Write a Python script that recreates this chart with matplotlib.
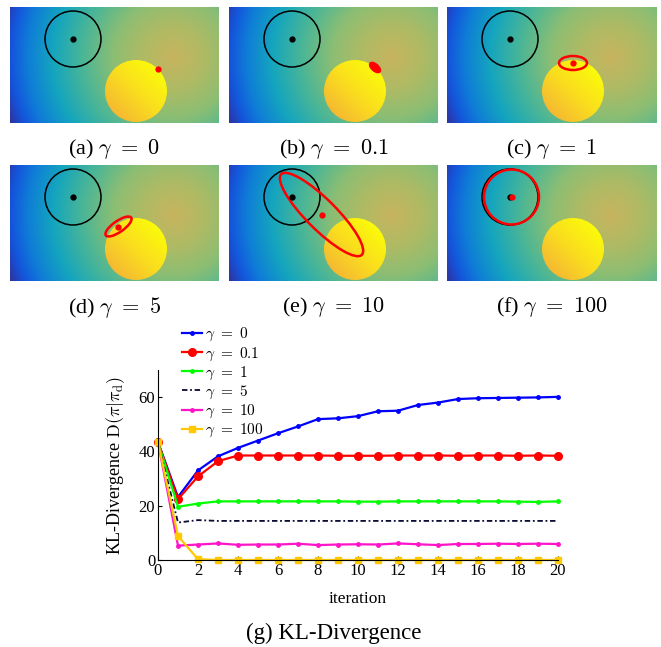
import numpy as np
import matplotlib
matplotlib.use('Agg')
import matplotlib.pyplot as plt
from matplotlib.colors import LinearSegmentedColormap
from matplotlib.patches import Circle, Ellipse

plt.rcParams['font.family'] = 'serif'
plt.rcParams['font.serif'] = ['Liberation Serif', 'DejaVu Serif']
plt.rcParams['mathtext.fontset'] = 'cm'

# KL-divergence per iteration for each gamma
iters = np.arange(0, 21)
kl_g0 = [43.4, 23.2, 33.0, 38.2, 41.3, 44.0, 46.7, 49.2, 51.9, 52.2, 53.0,
         54.8, 55.0, 57.1, 58.0, 59.3, 59.6, 59.7, 59.8, 59.9, 60.1]
kl_g01 = [43.4, 22.4, 30.8, 36.4, 38.5, 38.5, 38.5, 38.5, 38.5, 38.4, 38.4,
          38.4, 38.5, 38.5, 38.5, 38.4, 38.5, 38.5, 38.4, 38.5, 38.4]
kl_g1 = [43.4, 19.6, 20.8, 21.6, 21.6, 21.6, 21.6, 21.6, 21.6, 21.6, 21.5,
         21.5, 21.6, 21.6, 21.6, 21.6, 21.6, 21.6, 21.5, 21.4, 21.6]
kl_g5 = [43.4, 13.8, 14.7, 14.4, 14.4, 14.4, 14.4, 14.4, 14.4, 14.4, 14.4,
         14.4, 14.4, 14.4, 14.4, 14.4, 14.4, 14.4, 14.4, 14.4, 14.4]
kl_g10 = [43.4, 5.3, 5.7, 6.1, 5.6, 5.7, 5.7, 6.0, 5.5, 5.7, 5.8,
          5.7, 6.1, 5.8, 5.5, 5.9, 5.9, 6.0, 5.9, 6.0, 5.9]
kl_g100 = [43.4, 8.8, 0.3, 0.0, 0.0, 0.0, 0.0, 0.0, 0.0, 0.0, 0.0,
           0.0, 0.0, 0.0, 0.0, 0.0, 0.0, 0.0, 0.0, 0.0, 0.0]
gamma_labels = ['0', '0.1', '1', '5', '10', '100']
panel_letters = ['a', 'b', 'c', 'd', 'e', 'f']

# covariance ellipses per gamma: (cx, cy, width, height, angle), pixel units
ellipses = [None,
            (146, 60.5, 12, 6, 42),
            (126, 56, 28, 14, 0),
            (108.5, 61.5, 31, 11, -35),
            (92.5, 49.5, 114, 30, 45),
            (64.5, 32, 55, 55, 0)]
means = [(148, 62), (146, 60.5), (126, 56), (108, 62), (93, 49.5), (65, 32)]

W, H = 209.0, 116.0
fig = plt.figure(figsize=(6.61, 6.47), dpi=100)
FW, FH = 661.0, 647.0

# cost field behind the panels
bg_cmap = LinearSegmentedColormap.from_list('field', [
    (0.00, (200/255, 180/255, 95/255)),
    (0.17, (175/255, 186/255, 100/255)),
    (0.33, (140/255, 190/255, 115/255)),
    (0.50, (75/255, 182/255, 150/255)),
    (0.67, (20/255, 165/255, 190/255)),
    (0.81, (15/255, 125/255, 215/255)),
    (0.90, (20/255, 85/255, 220/255)),
    (1.00, (55/255, 40/255, 140/255))])
yy, xx = np.mgrid[0:H:0.5, 0:W:0.5]
field = np.sqrt((xx - 163) ** 2 + (yy - 50) ** 2) / 180.0

disk_cmap = LinearSegmentedColormap.from_list('disk', [
    (245/255, 185/255, 50/255), (250/255, 222/255, 30/255), (250/255, 250/255, 10/255)])
dcx, dcy, dr = 126, 84, 31
dy, dx = np.mgrid[dcy - dr:dcy + dr:0.5, dcx - dr:dcx + dr:0.5]
disk_val = ((dx - dcx) - (dy - dcy)) / (2 * dr)

lefts = [10, 229, 447]
tops = [7, 165]
cap_y = [149, 307]
for k in range(6):
    r, c = divmod(k, 3)
    ax = fig.add_axes([lefts[c] / FW, 1 - (tops[r] + H) / FH, W / FW, H / FH])
    ax.imshow(field, cmap=bg_cmap, vmin=0, vmax=1, extent=(0, W, H, 0),
              interpolation='bilinear', aspect='auto')
    im = ax.imshow(disk_val, cmap=disk_cmap, vmin=-0.7, vmax=0.7,
                   extent=(dcx - dr, dcx + dr, dcy + dr, dcy - dr), aspect='auto')
    clip = Circle((dcx, dcy), dr, transform=ax.transData, fc='none', ec='none')
    ax.add_patch(clip)
    im.set_clip_path(clip)
    ax.add_patch(Circle((63, 32), 28, fill=False, ec='black', lw=1.1))
    e = ellipses[k]
    if e is not None:
        filled = (k == 1)
        ax.add_patch(Ellipse((e[0], e[1]), e[2], e[3], angle=e[4],
                             fill=filled, fc='red', ec='red', lw=1.8))
    ax.plot(63, 32, 'o', color='black', ms=3.5)
    ax.plot(means[k][0], means[k][1], 'o', color='red', ms=3.5)
    ax.set_xlim(0, W)
    ax.set_ylim(H, 0)
    ax.axis('off')
    fig.text((lefts[c] + W / 2) / FW, 1 - cap_y[r] / FH,
             '(%s) $\\gamma\\ =\\ %s$' % (panel_letters[k], gamma_labels[k]),
             ha='center', va='center', fontsize=16)

# KL-divergence curves
ax = fig.add_axes([158 / FW, 1 - 560 / FH, 400 / FW, 190 / FH])
ax.plot(iters, kl_g0, '-', color='#0000ff', marker='.', ms=5, lw=1.6,
        label=r'$\gamma\ =\ 0$', clip_on=False)
ax.plot(iters, kl_g01, '-', color='#ff0000', marker='o', ms=5.5, lw=1.6,
        label=r'$\gamma\ =\ 0.1$', clip_on=False)
ax.plot(iters, kl_g1, '-', color='#00ff00', marker='.', ms=5, lw=1.6,
        label=r'$\gamma\ =\ 1$', clip_on=False)
ax.plot(iters, kl_g5, color='#0a0a32', lw=1.3, dashes=[3, 1.5, 1, 1.5],
        label=r'$\gamma\ =\ 5$', clip_on=False)
ax.plot(iters, kl_g10, '-', color='#ff14c8', marker='.', ms=5, lw=1.6,
        label=r'$\gamma\ =\ 10$', clip_on=False)
ax.plot(iters, kl_g100, '-', color='#ffc800', marker='s', ms=4.5, lw=1.6,
        label=r'$\gamma\ =\ 100$', clip_on=False)
ax.set_xlim(0, 20)
ax.set_ylim(0, 70)
ax.set_xticks(range(0, 21, 2))
ax.set_yticks([0, 20, 40, 60])
ax.spines['top'].set_visible(False)
ax.spines['right'].set_visible(False)
ax.tick_params(direction='in', length=3, labelsize=12, pad=2)
ax.set_xlabel('iteration', fontsize=12.5, labelpad=9)
ax.set_ylabel(r'KL-Divergence $\mathrm{D}(\pi|\pi_{\mathrm{d}})$', fontsize=13, labelpad=8)
fig.legend(loc='upper left', bbox_to_anchor=(182 / FW, 1 - 326 / FH), frameon=False,
           fontsize=11, handlelength=1.3, handletextpad=0.2, labelspacing=0.12,
           borderpad=0, borderaxespad=0)

fig.text(334 / FW, 1 - 633 / FH, '(g) KL-Divergence', ha='center', va='center', fontsize=16.5)

fig.savefig('out.png', dpi=100)
